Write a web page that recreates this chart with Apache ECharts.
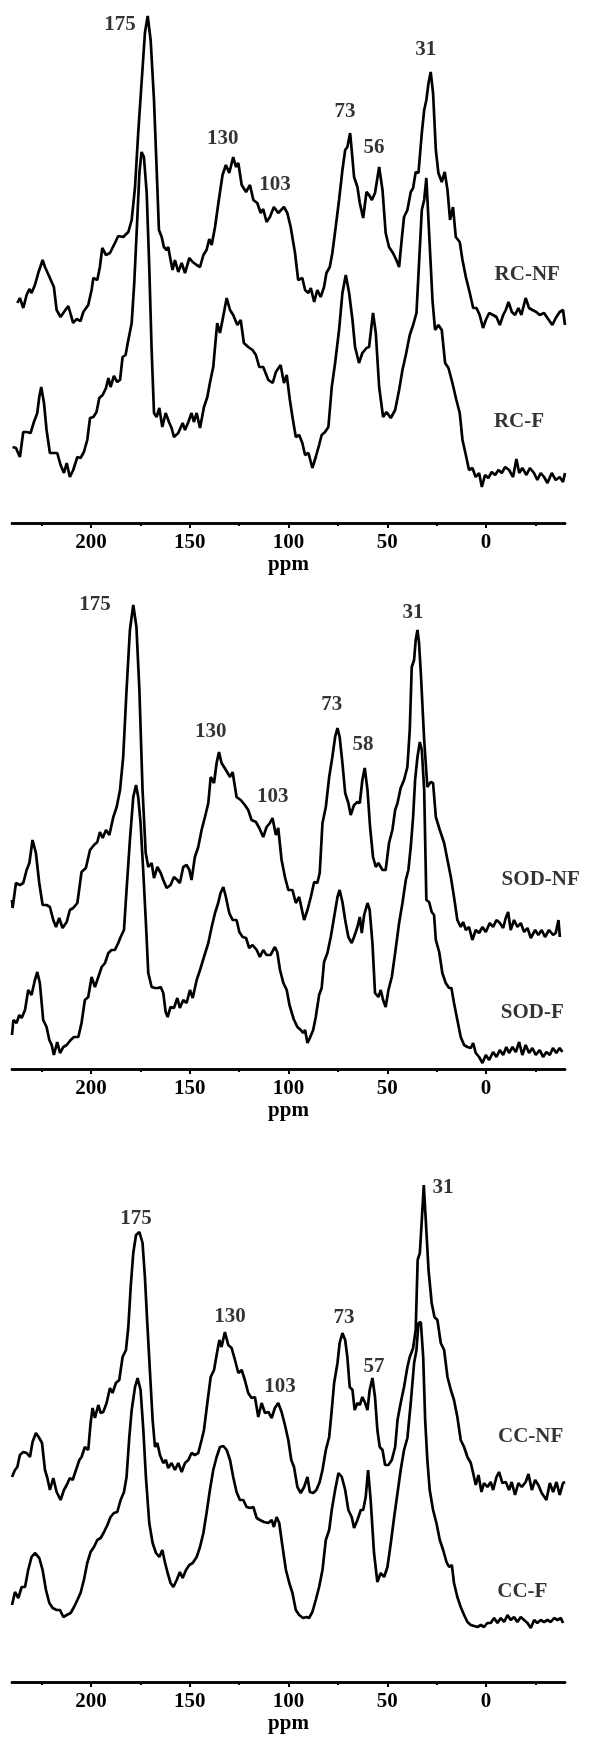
<!DOCTYPE html>
<html>
<head>
<meta charset="utf-8">
<script src="https://cdn.jsdelivr.net/npm/echarts@6/dist/echarts.min.js"></script>
<style>
  html, body { margin: 0; padding: 0; background: #fff; }
  #chart { width: 589px; height: 1742px; }
</style>
</head>
<body>
<div id="chart"></div>
<script>
// tick labels of the ppm axis
const majorTicks = [200, 150, 100, 50, 0];
const minorTicks = [225, 175, 125, 75, 25, -25];

// spectra: [ppm, intensity (a.u.)]
const rcNF = [[237.3,220],[236,225],[234.3,215],[232.6,228],[231.2,234],[230.1,230],[228.4,238],[226.7,250],[224.5,263],[223.3,256],[220.8,245],[218.8,236],[217.4,213],[215.4,206],[213.7,211],[211.5,217],[210.2,208],[209,200],[207.3,204],[205.3,202],[203.9,211],[201.4,218],[199.7,233],[198.8,245],[196.8,243],[195.5,256],[194.3,275],[192.4,268],[190.4,270],[187.9,280],[186.2,287],[183.7,286],[181.1,291],[179.4,303],[177.7,336],[176.1,390],[174.4,440],[172.7,490],[171.3,507],[169.8,483],[168.1,423],[166.8,356],[165.6,293],[164.2,286],[163.1,276],[161.7,273],[160.9,276],[159.7,263],[158.7,253],[157.5,263],[155.8,251],[154.1,260],[152.4,250],[150.2,265],[148.5,261],[146.5,258],[144.8,256],[143.1,268],[141.5,273],[140.1,284],[138.9,278],[137.2,296],[135.5,320],[133.4,348],[131.7,358],[130,350],[128,366],[126.6,356],[125.4,360],[123.7,338],[121.5,331],[119.5,338],[117.8,323],[115.8,320],[114.1,310],[112.8,314],[111.1,301],[109.4,306],[107.4,316],[105.2,310],[102.3,316],[100.6,310],[98.9,296],[96.7,270],[95.1,243],[93,245],[91.6,233],[89.9,230],[88.7,235],[87,221],[85.4,233],[83.7,226],[82,236],[80.8,250],[79.1,256],[77.8,270],[76.1,296],[74.4,323],[72.7,353],[71.3,373],[70.2,376],[68.8,390],[68,373],[66.8,346],[65.1,336],[63.9,320],[62.2,305],[60.5,331],[59.2,328],[57.8,323],[56.2,330],[54.1,356],[52.4,333],[50.8,290],[49.1,276],[47.1,270],[45.4,263],[44,256],[42.7,283],[41.5,306],[39.8,313],[38.1,331],[36.9,335],[35.6,351],[34.2,350],[32.5,390],[31.3,413],[30.2,423],[29.1,440],[28,451],[26.8,430],[25.4,373],[24.1,350],[22.4,341],[20.9,351],[19.5,333],[18.2,303],[16.7,316],[15.3,286],[13.3,281],[11.9,263],[10.2,246],[8.2,230],[6.5,215],[4.8,215],[3.2,208],[1.5,195],[0.1,203],[-1.6,210],[-3.6,208],[-5.3,206],[-7,198],[-8.7,208],[-10,213],[-11.4,221],[-13.1,211],[-14.7,208],[-16.4,215],[-17.9,208],[-20.1,225],[-21.8,215],[-23.5,213],[-25.5,211],[-27.2,208],[-29.4,210],[-31.1,205],[-33.6,198],[-35.3,205],[-37.3,211],[-39,213],[-40,198]];
const rcF = [[239.7,76],[238,75],[236,66],[234.3,91],[232.6,91],[230.6,90],[228.9,101],[227.2,110],[226.2,126],[225.2,136],[223.8,120],[222.5,93],[220.8,70],[218.8,70],[217.1,70],[215.4,58],[213.7,50],[212.3,60],[210.7,46],[209,53],[206.9,66],[205.3,65],[203.6,71],[201.9,83],[200.5,105],[198.8,106],[197.2,111],[195.8,125],[194.1,128],[192.4,135],[191.2,145],[190.1,136],[188.4,147],[186.7,141],[185.3,143],[184,166],[182.5,168],[181.1,183],[179.4,200],[178.1,240],[176.9,290],[175.5,350],[174.4,371],[173.2,366],[171.8,330],[170.5,256],[169.3,173],[168.1,110],[166.8,106],[165.4,115],[163.9,96],[162.2,110],[160.5,101],[159.2,95],[158,86],[155.8,90],[153.6,100],[152.4,93],[150.7,101],[149.1,110],[147.9,101],[146.5,110],[144.8,95],[142.8,116],[141.1,126],[139.8,140],[138.1,156],[136.1,200],[134.7,190],[133.4,203],[131.3,225],[129.6,213],[128,208],[125.9,198],[124.2,203],[122.6,180],[120.4,176],[118.2,173],[116.5,168],[114.8,156],[112.8,156],[110.2,143],[108,140],[106.4,151],[104,158],[102.3,140],[100.9,148],[99.3,123],[98,106],[96.3,86],[94.6,88],[93,80],[91.6,68],[89.9,70],[87.9,55],[86.2,66],[84.5,78],[83.2,88],[81.5,91],[79.8,96],[78.1,136],[76.4,160],[74.4,193],[72.7,230],[71,248],[69.3,230],[67.6,203],[66.3,176],[64.3,160],[62.6,170],[60.5,175],[59.2,176],[57.2,210],[55.8,190],[54.1,136],[52.1,106],[50.4,111],[48.2,105],[46,113],[44,133],[42.3,153],[40.6,168],[38.6,188],[36.9,198],[35.2,210],[33.9,260],[32.5,313],[31.3,323],[30.2,345],[28.8,290],[27.1,223],[25.8,193],[24.1,198],[22.4,193],[20.7,160],[19,155],[17,140],[15,123],[13.3,110],[11.9,83],[10.2,68],[8.6,53],[6.9,55],[5.2,46],[3.5,50],[2.1,36],[0.5,48],[-1.2,45],[-2.9,51],[-4.6,48],[-6.3,53],[-8,50],[-9.7,56],[-11.7,53],[-13.7,46],[-15.4,64],[-16.8,50],[-18.4,55],[-20.5,48],[-22.2,55],[-24.3,50],[-26,43],[-27.7,50],[-29.4,46],[-31.1,40],[-33.3,50],[-35.3,43],[-37.3,46],[-39,41],[-40,50]];
const sodNF = [[240,169],[239.7,161],[238,186],[236,184],[234.3,186],[232.6,199],[231.2,206],[229.6,229],[227.9,216],[226.2,186],[224.5,164],[222.5,164],[220.8,162],[219.1,149],[217.7,142],[216.1,151],[214.4,141],[212.3,147],[210.7,159],[209,161],[206.9,166],[204.8,197],[202.6,201],[200.5,219],[198.5,224],[196.8,227],[195.5,237],[194.1,231],[192.4,239],[190.7,234],[188.7,252],[187,262],[185.3,279],[183.7,312],[182,379],[180.3,439],[178.6,464],[177,442],[175.5,379],[173.9,279],[172.3,216],[171,202],[169.3,206],[168.1,191],[166.4,202],[164.7,196],[163.4,189],[161.7,181],[159.7,184],[158,192],[156.3,189],[155,186],[153.3,202],[151.6,204],[150.2,199],[149.1,189],[147.4,212],[145.7,222],[144,239],[142.3,252],[140.6,266],[139.4,292],[137.7,286],[136.4,306],[135.2,317],[133.9,306],[131.7,299],[129.6,292],[128.3,297],[126.3,272],[124.2,269],[122.1,264],[120.4,259],[118.7,249],[116.5,247],[114.8,241],[112.8,232],[111.1,242],[109.4,246],[108.1,251],[106.4,234],[105.2,241],[103.5,209],[101.8,192],[100.1,179],[98,179],[96.3,166],[94.6,172],[92.1,149],[90.4,159],[88.7,172],[87,187],[85.4,186],[84.2,196],[82.8,246],[81.1,262],[79.4,292],[77.8,312],[76.4,332],[75.2,341],[74.1,332],[72.7,306],[71.3,276],[69.7,266],[68.5,254],[66.8,264],[65.1,267],[63.9,266],[62.6,289],[61.4,301],[60,279],[58.7,242],[57.2,212],[55.8,202],[54.5,206],[52.4,199],[50.8,199],[49.1,226],[47.4,239],[46,259],[44.8,266],[43.2,281],[41.5,289],[39.8,302],[38.6,339],[37.6,402],[36.4,409],[35.6,429],[34.7,439],[33.9,426],[33,396],[31.3,329],[29.7,282],[28,287],[26.8,286],[25.4,252],[23.4,239],[21.2,226],[19.5,209],[17.8,192],[16.2,172],[14.5,149],[12.8,142],[11.6,147],[10.2,139],[8.6,142],[6.9,129],[5.2,139],[3.5,136],[1.8,142],[0.1,137],[-1.9,146],[-3.6,142],[-5.3,149],[-7,146],[-8.7,141],[-10,151],[-11.2,157],[-12.5,139],[-14.2,149],[-15.9,142],[-17.6,146],[-19.3,137],[-21,141],[-22.7,131],[-24.9,139],[-26.5,134],[-28.2,139],[-29.9,132],[-31.9,139],[-34,134],[-35.3,136],[-36.7,149],[-37.4,132]];
const sodF = [[240,34],[239.3,49],[237.7,46],[236.3,54],[235.1,51],[233.4,59],[231.8,79],[230.1,74],[228.4,89],[227.2,97],[225.9,86],[224.2,49],[222.5,42],[221.1,29],[219.9,24],[218.8,14],[217.1,27],[215.7,16],[214,22],[212.3,24],[210.3,29],[208.6,32],[206.4,32],[204.8,46],[203.1,69],[201.4,72],[199.7,92],[198,82],[196.3,92],[194.6,102],[192.9,106],[191.2,116],[189.6,119],[187.9,119],[186.2,126],[185,132],[183.3,139],[182,179],[180.3,229],[178.6,272],[177.2,284],[176.1,272],[174.9,246],[173.5,196],[172.2,146],[171,96],[169.3,82],[167.6,81],[165.9,81],[164.7,82],[163.4,76],[162.2,57],[161.2,52],[159.7,62],[158,61],[156.3,71],[155,61],[153.3,69],[151.6,66],[149.9,79],[148.5,71],[146.5,89],[144.8,99],[142.8,112],[140.6,126],[138.9,142],[137.2,156],[135.6,166],[134.4,176],[133,182],[131.7,172],[130,156],[128.3,149],[126.3,149],[124.9,137],[123.2,132],[121.5,131],[119.9,121],[118.2,124],[116.1,119],[114.5,112],[112.8,119],[111.1,114],[109.1,114],[106.9,122],[105.7,117],[104.3,99],[102.6,86],[100.9,79],[99.5,64],[97.4,50],[95.5,42],[93.8,39],[92.6,36],[91.6,39],[90.4,26],[89.2,31],[87.5,39],[86.2,52],[84.5,74],[83.2,81],[82,107],[80.3,116],[78.6,132],[76.9,152],[75.2,172],[74.1,179],[72.7,167],[71.3,149],[69.7,132],[68,126],[66.8,132],[65.1,142],[63.9,152],[62.9,136],[61.7,154],[60,166],[58.9,159],[57.5,126],[56.2,76],[54.5,72],[53.3,79],[52.1,69],[50.8,62],[49.4,79],[47.7,92],[46,116],[44,146],[42.3,166],[40.6,189],[39.3,199],[38.1,222],[36.9,252],[35.9,289],[34.7,312],[33.5,327],[32.5,319],[31.3,279],[30.2,169],[28.8,167],[27.5,157],[26.3,154],[25.4,129],[23.7,117],[22.1,96],[20.4,86],[18.7,81],[17.5,81],[16.2,66],[14.5,49],[12.8,32],[11.1,24],[9.4,22],[7.7,21],[6.5,26],[5.2,16],[3.5,12],[1.8,6],[0.1,14],[-1.6,9],[-3.6,17],[-5.3,12],[-7,19],[-8.7,14],[-10.3,22],[-11.7,16],[-13.4,22],[-15.1,17],[-16.8,27],[-18.4,14],[-20.1,24],[-21.8,16],[-23.5,21],[-25.2,14],[-27.2,19],[-28.9,12],[-30.6,17],[-32.3,14],[-33.9,21],[-35.6,16],[-37.3,21],[-38.7,17]];
const ccNF = [[240,205],[238.5,212],[237.3,215],[236,227],[234.3,230],[232.6,229],[230.9,225],[229.6,240],[227.9,249],[226.2,244],[224.8,239],[223.3,212],[222.1,204],[220.8,192],[219.1,204],[217.4,190],[215.4,182],[213.7,192],[212.3,197],[210.7,204],[209.3,202],[207.6,212],[205.9,222],[204.8,225],[203.1,235],[201.4,232],[200.2,259],[199.2,274],[198,264],[196.3,277],[195.1,269],[193.8,270],[192.1,279],[190.4,294],[189.1,289],[187.4,299],[185.7,302],[184,325],[182.3,332],[181.1,355],[179.9,395],[178.6,429],[177.2,447],[175.5,450],[173.9,439],[172.7,405],[171.5,359],[170.2,312],[168.8,262],[167.6,235],[166.4,239],[165.1,227],[163.4,219],[162.1,222],[160.9,214],[159.2,219],[157.5,212],[155.8,219],[154.1,210],[152.4,219],[150.7,222],[149.1,229],[147.4,227],[145.7,229],[144,242],[142.8,252],[141.1,279],[139.4,305],[137.7,312],[136.4,327],[135,342],[133.9,335],[132.2,350],[130.5,337],[128.8,334],[127.1,322],[125.4,309],[123.7,312],[122.1,302],[120.4,289],[118.7,284],[117,285],[115.3,265],[113.6,279],[111.9,269],[110.2,270],[108.5,264],[106.9,274],[105.2,279],[103.5,270],[101.8,257],[100.1,242],[98.6,222],[97.2,215],[95.5,195],[93.8,189],[92.1,195],[90.4,205],[89.2,190],[87.5,189],[85.9,192],[84.2,200],[82.8,212],[81.1,232],[79.4,245],[78.1,272],[76.9,299],[75.2,319],[74.1,339],[72.7,349],[71.3,342],[70.2,325],[69,295],[67.6,292],[66.5,272],[65.1,279],[63.9,277],[62.6,285],[61.2,279],[60,272],[58.9,292],[57.5,304],[56.2,285],[55,252],[53.8,235],[52.4,232],[51.1,217],[49.4,217],[47.7,222],[46,235],[44.8,262],[43.2,279],[41.5,295],[39.8,315],[38.6,325],[36.9,334],[35.6,352],[34.6,422],[33.5,429],[32.5,462],[31.5,497],[30.5,462],[29.1,412],[27.5,379],[26.1,365],[24.6,362],[22.9,339],[21.2,332],[19.5,305],[17.8,292],[16.2,282],[14.5,265],[12.8,242],[11.1,235],[9.4,225],[7.7,219],[6.5,209],[5.2,197],[3.8,207],[2.3,190],[1,199],[-0.7,195],[-2.4,200],[-3.6,192],[-5.3,205],[-6.6,210],[-8.3,199],[-10,200],[-11.7,192],[-13,200],[-14.7,187],[-16.4,199],[-18.1,195],[-20.1,200],[-21.5,208],[-23.2,192],[-24.9,202],[-26.5,197],[-28.2,189],[-30.6,182],[-32.3,199],[-34,190],[-35.7,200],[-37.3,187],[-39,199],[-40,200]];
const ccF = [[240,77],[238.5,90],[236.8,84],[235.1,95],[233.4,95],[231.8,112],[230.1,125],[228.4,129],[226.2,124],[224.5,112],[222.8,92],[221.1,79],[219.4,74],[217.4,72],[215.7,72],[214,65],[212.3,67],[210.3,69],[208.6,75],[206.9,82],[205.3,89],[203.6,102],[201.9,119],[200.2,130],[198.5,135],[196.8,142],[195.1,144],[193.4,150],[191.7,157],[190.1,165],[188.4,169],[186.7,170],[185,182],[183.3,190],[182,205],[180.6,245],[179.4,272],[177.7,295],[176.4,304],[174.9,292],[173.5,252],[172.2,205],[170.5,159],[168.8,139],[167.1,129],[165.4,125],[163.9,132],[162.6,120],[161.2,109],[159.7,99],[158.3,95],[156.6,102],[155,110],[153.6,104],[151.9,112],[150.2,117],[148.5,119],[146.5,125],[144.8,135],[143.1,149],[141.5,169],[139.8,192],[138.1,212],[136.4,225],[134.7,235],[133,236],[131.3,232],[129.6,222],[128,205],[126.3,190],[124.6,182],[122.9,182],[121.2,175],[119.5,174],[117.8,175],[116.1,164],[114.5,162],[112.4,160],[110.2,159],[108.5,162],[107.4,155],[106,165],[104.7,159],[103,135],[101.3,112],[99.6,99],[98,89],[96.3,72],[94.6,67],[92.6,64],[90.9,65],[89.6,64],[87.9,70],[86.2,82],[84.5,95],[82.8,112],[81.1,142],[79.4,152],[78.1,172],[76.4,192],[74.7,209],[73,205],[71.3,192],[69.7,172],[68,165],[66.8,154],[65.1,162],[63.4,172],[62.2,172],[60.9,185],[59.7,212],[58.4,182],[56.7,129],[55,100],[53.3,109],[51.6,105],[49.9,115],[48.2,139],[46.5,165],[44.8,189],[43.2,212],[41.5,232],[39.8,244],[38.1,279],[36.4,319],[35.2,332],[34.2,359],[33,360],[31.8,325],[30.8,262],[29.7,222],[28.5,192],[26.8,172],[25.1,159],[23.4,142],[21.7,132],[20,120],[18.7,115],[17.3,117],[16.2,99],[14.5,85],[12.8,75],[11.1,67],[9.4,60],[7.7,57],[6,56],[4.3,55],[2.6,57],[1,55],[-0.7,59],[-2.4,59],[-4.1,64],[-5.8,59],[-7.5,64],[-9.2,60],[-10.9,67],[-12.5,62],[-14.2,65],[-15.9,60],[-17.6,65],[-19.3,62],[-21,59],[-22.7,54],[-24.4,62],[-26,59],[-27.7,62],[-29.4,60],[-31.1,62],[-32.8,60],[-34.5,64],[-36.2,62],[-37.9,64],[-39,59]];

// peak labels and sample names: [ppm, intensity, text]
const rcNotes = [[185.3,498,'175'],[133.3,384,'130'],[106.8,338,'103'],[71.4,411,'73'],[56.7,375,'56'],[30.5,473,'31'],[-20.9,248,'RC-NF'],[-16.7,101,'RC-F']];
const sodNotes = [[198,464,'175'],[139.4,337,'130'],[108,272,'103'],[78.1,364,'73'],[62.3,324,'58'],[37,456,'31'],[-27.7,189,'SOD-NF'],[-23.4,56,'SOD-F']];
const ccNotes = [[177.2,463,'175'],[129.6,365,'130'],[104.3,295,'103'],[71.9,364,'73'],[56.7,315,'57'],[21.8,494,'31'],[-22.6,245,'CC-NF'],[-18.4,90,'CC-F']];

const panels = [
  { axisY: 523, nf: rcNF, f: rcF, notes: rcNotes },
  { axisY: 1069, nf: sodNF, f: sodF, notes: sodNotes },
  { axisY: 1682, nf: ccNF, f: ccF, notes: ccNotes }
];

const font = 'Liberation Serif, Times New Roman, serif';
const H = 520;
const axisLineStyle = { color: '#000', width: 2.5 };

let grid = [], xAxis = [], yAxis = [], series = [];
panels.forEach((p, i) => {
  grid.push({ left: 12, width: 553, top: p.axisY - H, height: H });
  // labelled axis with major ticks
  xAxis.push({
    type: 'value', gridIndex: i, position: 'bottom', inverse: true, min: -40, max: 240,
    name: 'ppm', nameLocation: 'middle', nameGap: 31,
    nameTextStyle: { color: '#000', fontFamily: font, fontWeight: 'bold', fontSize: 21 },
    axisLine: { show: true, onZero: false, lineStyle: axisLineStyle },
    axisTick: { show: true, customValues: majorTicks, length: 5, lineStyle: { color: '#000', width: 2 } },
    axisLabel: { show: true, customValues: majorTicks, margin: 9, color: '#000', fontFamily: font, fontWeight: 'bold', fontSize: 21 },
    splitLine: { show: false }
  });
  // minor ticks, drawn on the same line
  xAxis.push({
    type: 'value', gridIndex: i, position: 'bottom', inverse: true, min: -40, max: 240,
    axisLine: { show: true, onZero: false, lineStyle: axisLineStyle },
    axisTick: { show: true, customValues: minorTicks, length: 3, lineStyle: { color: '#000', width: 2 } },
    axisLabel: { show: false },
    splitLine: { show: false }
  });
  yAxis.push({ type: 'value', gridIndex: i, min: 0, max: H, show: false });

  [p.nf, p.f].forEach(d => {
    series.push({
      type: 'line', xAxisIndex: i * 2, yAxisIndex: i, data: d,
      showSymbol: false, symbol: 'none', smooth: false,
      lineStyle: { color: '#000', width: 2.7 }
    });
  });
  series.push({
    type: 'scatter', xAxisIndex: i * 2, yAxisIndex: i, data: p.notes,
    symbolSize: 1, itemStyle: { color: 'rgba(0,0,0,0)' },
    label: {
      show: true, position: 'inside', formatter: q => q.data[2],
      color: '#000', fontFamily: font, fontWeight: 'bold', fontSize: 21
    }
  });
});

const chart = echarts.init(document.getElementById('chart'));
chart.setOption({ animation: false, backgroundColor: '#fff', grid, xAxis, yAxis, series });
</script>
</body>
</html>
